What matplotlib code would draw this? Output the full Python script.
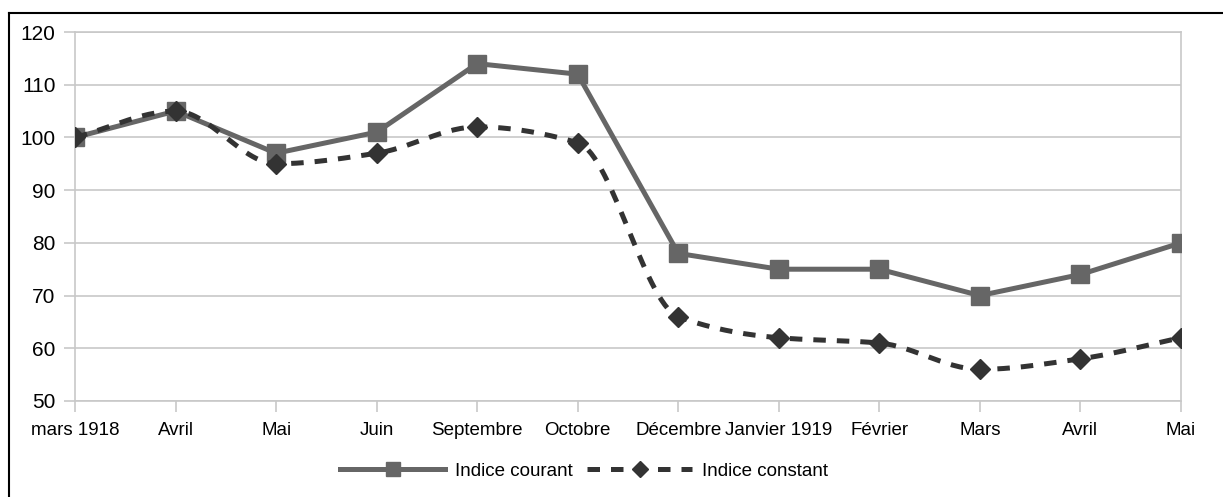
import numpy as np
import matplotlib
matplotlib.use('Agg')
import matplotlib.pyplot as plt
from matplotlib.lines import Line2D

# ========== Data ==========
months = ['mars 1918', 'Avril', 'Mai', 'Juin', 'Septembre', 'Octobre',
          'Décembre', 'Janvier 1919', 'Février', 'Mars', 'Avril', 'Mai']
indice_courant = [100, 105, 97, 101, 114, 112, 78, 75, 75, 70, 74, 80]
indice_constant = [100, 105, 95, 97, 102, 99, 66, 62, 61, 56, 58, 62]


def smooth(x, y, n=30):
    # monotone cubic (Fritsch-Carlson) curve through the points
    x = np.asarray(x, float)
    y = np.asarray(y, float)
    h = np.diff(x)
    d = np.diff(y) / h
    m = np.zeros_like(y)
    m[0], m[-1] = d[0], d[-1]
    for i in range(1, len(y) - 1):
        if d[i - 1] * d[i] > 0:
            w1 = 2 * h[i] + h[i - 1]
            w2 = h[i] + 2 * h[i - 1]
            m[i] = (w1 + w2) / (w1 / d[i - 1] + w2 / d[i])
    xs, ys = [], []
    for i in range(len(x) - 1):
        t = np.linspace(0, 1, n, endpoint=(i == len(x) - 2))
        h00 = 2 * t ** 3 - 3 * t ** 2 + 1
        h10 = t ** 3 - 2 * t ** 2 + t
        h01 = -2 * t ** 3 + 3 * t ** 2
        h11 = t ** 3 - t ** 2
        xs.append(x[i] + t * h[i])
        ys.append(h00 * y[i] + h10 * h[i] * m[i] + h01 * y[i + 1]
                  + h11 * h[i] * m[i + 1])
    return np.concatenate(xs), np.concatenate(ys)


plt.rcParams['font.family'] = ['Liberation Sans', 'DejaVu Sans']
plt.rcParams['font.size'] = 13

W, H = 1223, 497
fig = plt.figure(figsize=(W / 100, H / 100), dpi=100)
ax = fig.add_axes([75 / W, 1 - 401 / H, (1181 - 75) / W, (401 - 32) / H])

x = np.arange(len(months))
c_cour = '#666666'
c_cons = '#333333'

ax.plot(x, indice_courant, color=c_cour, lw=3.6, marker='s', ms=13,
        zorder=3, solid_joinstyle='miter')

xs, ys = smooth(x, indice_constant)
ax.plot(xs, ys, color=c_cons, lw=3.6, ls=(0, (2.5, 2.2)), zorder=4)
ax.plot(x, indice_constant, color=c_cons, ls='none', marker='D', ms=10,
        zorder=5)

ax.set_xlim(0, len(months) - 1)
ax.set_ylim(50, 120)
ax.set_yticks(range(50, 121, 10))
ax.set_xticks(x)
ax.set_xticklabels(months)

grid_c = '#c8c8c8'
ax.grid(axis='y', color=grid_c, lw=1.2)
ax.set_axisbelow(True)
for side in ['left', 'right', 'bottom', 'top']:
    ax.spines[side].set_color(grid_c)
    ax.spines[side].set_linewidth(1.2)
ax.tick_params(axis='both', colors=grid_c, labelcolor='black', length=8,
               width=1.2)
ax.tick_params(axis='x', pad=7, labelsize=13.5)
ax.tick_params(axis='y', pad=6, labelsize=15)

handles = [
    Line2D([], [], color=c_cour, lw=3.6, marker='s', ms=10),
    Line2D([], [], color=c_cons, lw=3.6, ls=(0, (2.5, 2.2)), marker='D', ms=8),
]
fig.legend(handles, ['Indice courant', 'Indice constant'], loc='center',
           bbox_to_anchor=(584 / W, 1 - 471 / H), ncol=2, frameon=False,
           handlelength=5.6, handletextpad=0.5, columnspacing=0.8,
           fontsize=13.5)

# outer frame
fy = 1 - 13 / H
fx = 9 / W
fig.add_artist(Line2D([fx, 1], [fy, fy], color='black', lw=1.5,
                      transform=fig.transFigure))
fig.add_artist(Line2D([fx, fx], [0, fy], color='black', lw=1.5,
                      transform=fig.transFigure))

fig.savefig('out.png', dpi=100)
